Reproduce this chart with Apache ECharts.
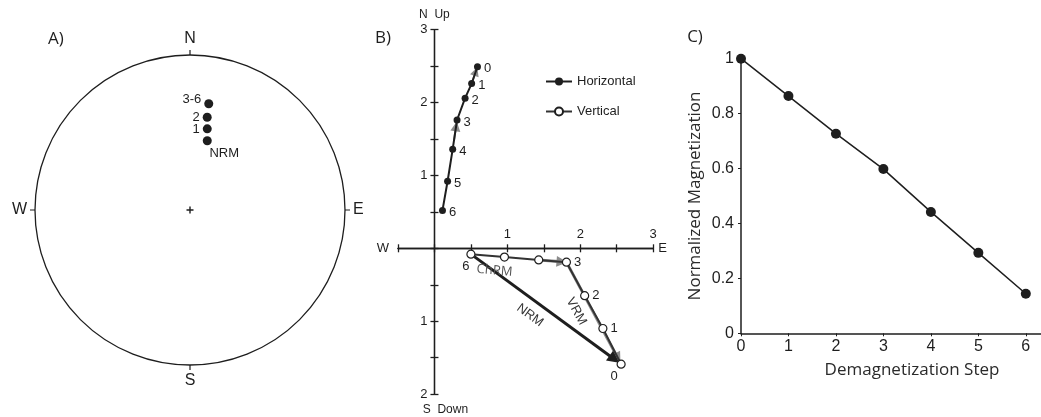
<!DOCTYPE html>
<html>
<head>
<meta charset="utf-8">
<script src="https://cdn.jsdelivr.net/npm/echarts@6/dist/echarts.min.js"></script>
<style>
  html, body { margin: 0; padding: 0; background: #fff; }
  #chart { width: 1041px; height: 417px; }
</style>
</head>
<body>
<div id="chart"></div>
<script>
// ---- A) stereonet: directions after each step (degrees) ----
const stereoLabels = ['NRM', '1', '2', '3-6'];
const stereoDec = [14, 12, 10.5, 10];
const stereoInc = [52, 45.5, 39, 31];
const compassLabels = { 0: 'N', 90: 'E', 180: 'S', 270: 'W' };

// ---- B) orthogonal vector plot, steps 0..6 ----
const steps = ['0', '1', '2', '3', '4', '5', '6'];
const horizEast = [0.59, 0.51, 0.42, 0.31, 0.25, 0.18, 0.11];
const horizNorth = [2.49, 2.26, 2.06, 1.76, 1.36, 0.92, 0.52];
const vertEast = [2.56, 2.31, 2.06, 1.81, 1.43, 0.96, 0.50];
const vertDown = [1.59, 1.10, 0.65, 0.19, 0.16, 0.12, 0.08];
const vertLabelled = [true, true, true, true, false, false, true];

// ---- C) intensity decay ----
const demagSteps = [0, 1, 2, 3, 4, 5, 6];
const normMag = [1.0, 0.864, 0.727, 0.598, 0.442, 0.293, 0.144];

const INK = '#1e1e1e';
const ARIAL = '"Liberation Sans", Arial, sans-serif';
const MYRIAD = '"Open Sans", sans-serif';

// equal-area (Schmidt) radial distance, 1 at the primitive circle
function equalArea(inc) {
  return Math.SQRT2 * Math.sin((90 - inc) / 2 * Math.PI / 180);
}

const stereoLabelStyle = {
  'NRM': { position: 'bottom', distance: 2, offset: [17, 0] },
  '1': { position: 'left', distance: 3, offset: [0, 1] },
  '2': { position: 'left', distance: 3, offset: [0, 0] },
  '3-6': { position: 'left', distance: 3, offset: [0, -4] }
};
const stereoData = stereoLabels.map((name, i) => ({
  name: name,
  value: [equalArea(stereoInc[i]), stereoDec[i]],
  label: Object.assign({ show: true, formatter: name, fontSize: 13, color: INK, fontFamily: ARIAL }, stereoLabelStyle[name])
}));

const hPts = steps.map((s, i) => [horizEast[i], horizNorth[i]]);
const vPts = steps.map((s, i) => [vertEast[i], -vertDown[i]]);

function along(pts, i, j, f) {
  return [pts[i][0] + (pts[j][0] - pts[i][0]) * f, pts[i][1] + (pts[j][1] - pts[i][1]) * f];
}

const vertLabelStyle = {
  0: { position: 'bottom', distance: 1, offset: [-7, 0] },
  6: { position: 'bottom', distance: 1, offset: [-5, 0] }
};
const vData = vPts.map((p, i) => ({
  value: p,
  label: Object.assign({
    show: vertLabelled[i], formatter: steps[i], position: 'right', distance: 3
  }, vertLabelStyle[i] || {})
}));

// direction arrows and segment annotations on the vector plot
const GREY = '#8c8c8c';
function arrow(pts, i, j, f0, f1, color, width, size) {
  return [
    { coord: along(pts, i, j, f0), symbol: 'none', lineStyle: { color: color, width: width } },
    { coord: along(pts, i, j, f1), symbol: 'triangle', symbolSize: size }
  ];
}
function tag(pts, i, j, f0, f1, text, color, family) {
  return [
    {
      coord: along(pts, i, j, f0), symbol: 'none', lineStyle: { color: 'rgba(0,0,0,0)', width: 1 },
      label: { show: true, formatter: text, position: 'insideMiddleBottom', distance: 8, color: color, fontSize: 13, fontFamily: family }
    },
    { coord: along(pts, i, j, f1), symbol: 'none' }
  ];
}
const markLines = [
  arrow(hPts, 1, 0, 0.15, 0.72, GREY, 2, 9),
  arrow(hPts, 4, 3, 0.3, 0.78, GREY, 2, 10),
  arrow(vPts, 4, 3, 0.0, 0.84, GREY, 3, 11),
  arrow(vPts, 3, 0, 0.0, 0.94, GREY, 3, 11),
  arrow(vPts, 6, 0, 0.0, 0.955, INK, 3, 12),
  tag(vPts, 6, 0, 0.0, 0.9, 'NRM', '#333', ARIAL),
  tag(vPts, 3, 0, 0.0, 0.83, 'VRM', '#333', ARIAL),
  tag(vPts, 6, 3, 0.0, 0.52, 'ChRM', '#555', MYRIAD)
];

// vector-plot frame: the axes cross at the origin
const ZIJ_LEFT = 398, ZIJ_TOP = 29.6, ZIJ_W = 255.2, ZIJ_H = 364.5;
const X_MIN = -0.5, X_MAX = 3, Y_MIN = -2, Y_MAX = 3;
const originX = ZIJ_W * (0 - X_MIN) / (X_MAX - X_MIN);
const originY = ZIJ_H * (Y_MAX - 0) / (Y_MAX - Y_MIN);

const zijLabel = v => (Number.isInteger(v) && v !== 0) ? String(Math.abs(v)) : '';
const zijX = {
  gridIndex: 0, type: 'value', min: X_MIN, max: X_MAX, interval: 0.5,
  axisLine: { show: true, onZero: false, lineStyle: { color: INK, width: 1.3 } },
  axisTick: { show: true, length: 4, lineStyle: { color: INK, width: 1.3 } },
  splitLine: { show: false },
  nameTextStyle: { color: INK, fontSize: 13, fontFamily: ARIAL }
};
const zijY = {
  gridIndex: 0, type: 'value', min: Y_MIN, max: Y_MAX, interval: 0.5,
  axisLine: { show: true, onZero: false, lineStyle: { color: INK, width: 1.3 } },
  axisTick: { show: true, length: 4, lineStyle: { color: INK, width: 1.3 } },
  splitLine: { show: false },
  nameTextStyle: { color: INK, fontSize: 12, fontFamily: ARIAL }
};

const option = {
  animation: false,
  backgroundColor: '#fff',
  textStyle: { fontFamily: ARIAL, color: INK },
  graphic: [
    { type: 'text', x: 56, y: 39, style: { text: 'A)', font: '17px "Open Sans"', fill: INK, textAlign: 'center', textVerticalAlign: 'middle' } },
    { type: 'text', x: 383, y: 38, style: { text: 'B)', font: '17px "Open Sans"', fill: INK, textAlign: 'center', textVerticalAlign: 'middle' } },
    { type: 'text', x: 695, y: 37, style: { text: 'C)', font: '17px "Open Sans"', fill: INK, textAlign: 'center', textVerticalAlign: 'middle' } }
  ],
  polar: { center: [190, 210], radius: 155 },
  angleAxis: {
    type: 'value', min: 0, max: 360, interval: 90, startAngle: 90, clockwise: true,
    axisLine: { show: true, lineStyle: { color: INK, width: 1.3 } },
    axisTick: { show: true, inside: false, length: 5, lineStyle: { color: INK, width: 1.2 } },
    axisLabel: {
      show: true, margin: 8, fontSize: 16, color: INK, fontFamily: ARIAL,
      formatter: v => (v < 360 ? (compassLabels[v] || '') : '')
    },
    splitLine: { show: false }, splitArea: { show: false }
  },
  radiusAxis: {
    type: 'value', min: 0, max: 1, show: false,
    axisLine: { show: false }, axisTick: { show: false }, axisLabel: { show: false }, splitLine: { show: false }
  },
  grid: [
    { left: ZIJ_LEFT, top: ZIJ_TOP, width: ZIJ_W, height: ZIJ_H, outerBoundsMode: 'none', containLabel: false },
    { left: 741, top: 58.7, width: 300, height: 274.6, outerBoundsMode: 'none', containLabel: false }
  ],
  xAxis: [
    Object.assign({}, zijX, {
      position: 'bottom', offset: -(ZIJ_H - originY),
      axisLabel: { show: false }, name: 'E', nameLocation: 'end', nameGap: 5
    }),
    Object.assign({}, zijX, {
      position: 'top', offset: -originY, name: 'W', nameLocation: 'start', nameGap: 9,
      axisLabel: { show: true, margin: 7, fontSize: 13, color: INK, fontFamily: ARIAL, formatter: v => (v > 0 ? zijLabel(v) : '') }
    }),
    {
      gridIndex: 1, type: 'value', min: 0, max: 6.32,
      axisLine: { show: true, onZero: false, lineStyle: { color: INK, width: 1.5 } },
      axisTick: { show: true, length: 3, customValues: demagSteps, lineStyle: { color: INK } },
      axisLabel: { show: true, customValues: demagSteps, margin: 5, fontSize: 16, color: INK, fontFamily: ARIAL },
      splitLine: { show: false },
      name: 'Demagnetization Step', nameLocation: 'middle', nameGap: 28,
      nameTextStyle: { fontSize: 17, color: '#2a2a2a', fontFamily: MYRIAD, padding: [0, 0, 0, 42] }
    }
  ],
  yAxis: [
    Object.assign({}, zijY, {
      position: 'left', offset: -originX, name: 'N  Up', nameLocation: 'end', nameGap: 9,
      axisLabel: { show: true, margin: 7, fontSize: 13, color: INK, fontFamily: ARIAL, formatter: zijLabel }
    }),
    Object.assign({}, zijY, {
      position: 'right', offset: -(ZIJ_W - originX), axisLabel: { show: false },
      name: 'S  Down', nameLocation: 'start', nameGap: 10,
      nameTextStyle: { color: INK, fontSize: 12, fontFamily: ARIAL, padding: [0, 0, 0, 22] }
    }),
    {
      gridIndex: 1, type: 'value', min: 0, max: 1, interval: 0.2,
      axisLine: { show: true, onZero: false, lineStyle: { color: INK, width: 1.5 } },
      axisTick: { show: true, length: 3, lineStyle: { color: INK } },
      axisLabel: { show: true, margin: 7, fontSize: 16, color: INK, fontFamily: ARIAL },
      splitLine: { show: false },
      name: 'Normalized Magnetization', nameLocation: 'middle', nameGap: 37,
      nameTextStyle: { fontSize: 17, color: '#2a2a2a', fontFamily: MYRIAD }
    }
  ],
  legend: {
    data: ['Horizontal', 'Vertical'],
    orient: 'vertical', left: 540, top: 70,
    itemWidth: 26, itemHeight: 10, itemGap: 17,
    textStyle: { fontSize: 13, color: INK, fontFamily: ARIAL },
    selectedMode: false
  },
  series: [
    {
      name: 'Stereonet', type: 'scatter', coordinateSystem: 'polar',
      symbol: 'circle', symbolSize: 9, itemStyle: { color: INK, opacity: 1 },
      data: stereoData, z: 10
    },
    {
      name: 'Pole', type: 'scatter', coordinateSystem: 'polar',
      symbol: 'path://M4,0H6V4H10V6H6V10H4V6H0V4H4Z', symbolSize: 7,
      itemStyle: { color: INK, opacity: 1 }, data: [[0, 0]], silent: true
    },
    {
      name: 'Annotations', type: 'line', xAxisIndex: 0, yAxisIndex: 0, data: [],
      markLine: {
        silent: true, animation: false, symbol: ['none', 'triangle'],
        lineStyle: { type: 'solid' }, label: { show: false },
        data: markLines
      },
      z: 3
    },
    {
      name: 'Horizontal', type: 'line', xAxisIndex: 0, yAxisIndex: 0,
      data: hPts, symbol: 'circle', symbolSize: 7,
      lineStyle: { color: INK, width: 2 }, itemStyle: { color: INK },
      label: { show: true, formatter: p => steps[p.dataIndex], position: 'right', distance: 3, offset: [0, 2], fontSize: 13, color: INK, fontFamily: ARIAL },
      z: 10
    },
    {
      name: 'Vertical', type: 'line', xAxisIndex: 0, yAxisIndex: 0,
      data: vData, symbol: 'circle', symbolSize: 8,
      lineStyle: { color: '#333', width: 2 },
      itemStyle: { color: '#fff', borderColor: INK, borderWidth: 1.2 },
      label: { fontSize: 13, color: INK, fontFamily: ARIAL },
      z: 10
    },
    {
      name: 'Decay', type: 'line', xAxisIndex: 2, yAxisIndex: 2,
      data: demagSteps.map((s, i) => [s, normMag[i]]),
      symbol: 'circle', symbolSize: 10,
      lineStyle: { color: INK, width: 1.5 }, itemStyle: { color: INK },
      z: 10
    }
  ]
};

const chart = echarts.init(document.getElementById('chart'), null, { renderer: 'canvas' });
chart.setOption(option);
</script>
</body>
</html>
